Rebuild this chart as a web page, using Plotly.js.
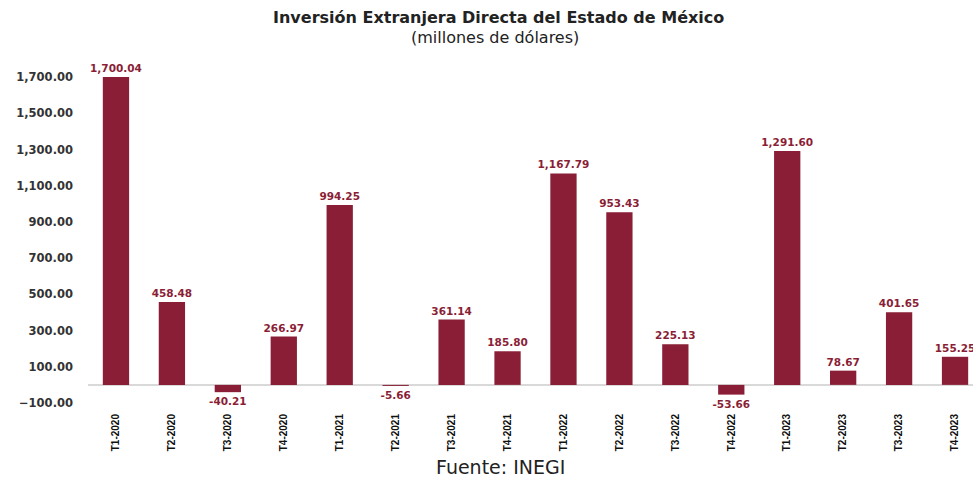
<!DOCTYPE html>
<html>
<head>
<meta charset="utf-8">
<script src="https://cdn.plot.ly/plotly-3.0.1.min.js"></script>
<style>html,body{margin:0;padding:0;overflow:hidden;background:#fff;}</style>
</head>
<body>
<div id="chart"></div>
<script>
const categories = ["T1-2020","T2-2020","T3-2020","T4-2020","T1-2021","T2-2021","T3-2021","T4-2021","T1-2022","T2-2022","T3-2022","T4-2022","T1-2023","T2-2023","T3-2023","T4-2023"];
const values = [1700.04, 458.48, -40.21, 266.97, 994.25, -5.66, 361.14, 185.80, 1167.79, 953.43, 225.13, -53.66, 1291.60, 78.67, 401.65, 155.25];
const titleText = "<b>Inversión Extranjera Directa del Estado de México</b>";
const subtitleText = "(millones de dólares)";
const sourceText = "Fuente: INEGI";
const yTickVals = [-100, 100, 300, 500, 700, 900, 1100, 1300, 1500, 1700];

const barColor = "#8a1e36";

const trace = {
  type: "bar",
  x: categories,
  y: values,
  marker: {color: barColor},
  texttemplate: "<b>%{y:,.2f}</b>",
  textposition: "outside",
  constraintext: "none",
  cliponaxis: false,
  textfont: {family: "DejaVu Sans, sans-serif", size: 10.5, color: "#8a1e36"},
  hoverinfo: "x+y"
};

const layout = {
  width: 1000,
  height: 481,
  margin: {l: 88, r: 17, t: 59, b: 78},
  paper_bgcolor: "#fff",
  plot_bgcolor: "#fff",
  bargap: 0.53,
  showlegend: false,
  xaxis: {
    type: "category",
    tickangle: -90,
    tickfont: {family: "Liberation Sans Narrow, Liberation Sans, sans-serif", size: 10, color: "#111", weight: "bold"},
    ticklen: 0,
    showline: false,
    showgrid: false,
    zeroline: false,
    ticklabelstandoff: 8
  },
  yaxis: {
    range: [-100, 1800],
    tickvals: yTickVals,
    tickformat: ",.2f",
    tickfont: {family: "DejaVu Sans, sans-serif", size: 11.5, color: "#333", weight: "bold"},
    showgrid: false,
    showline: false,
    zeroline: true,
    zerolinecolor: "#d9d9d9",
    zerolinewidth: 1.5,
    ticks: "",
    ticklabelstandoff: 14
  },
  annotations: [
    {text: titleText, x: 498, y: 17, showarrow: false,
     font: {family: "DejaVu Sans, sans-serif", size: 16, color: "#222"}},
    {text: subtitleText, x: 495, y: 37, showarrow: false,
     font: {family: "DejaVu Sans, sans-serif", size: 16, color: "#222"}},
    {text: sourceText, x: 500, y: 467, showarrow: false,
     font: {family: "DejaVu Sans, sans-serif", size: 19, color: "#222"}}
  ]
};

// convert pixel positions for annotations to paper coordinates
(function(){
  const W = layout.width, H = layout.height, m = layout.margin;
  const pw = W - m.l - m.r, ph = H - m.t - m.b;
  layout.annotations.forEach(a => {
    const px = a.x, py = a.y;
    a.xref = "paper"; a.yref = "paper";
    a.x = (px - m.l) / pw;
    a.y = (H - m.b - py) / ph;
    a.xanchor = "center"; a.yanchor = "middle";
  });
})();

Plotly.newPlot("chart", [trace], layout, {displayModeBar: false, staticPlot: true});
</script>
</body>
</html>
